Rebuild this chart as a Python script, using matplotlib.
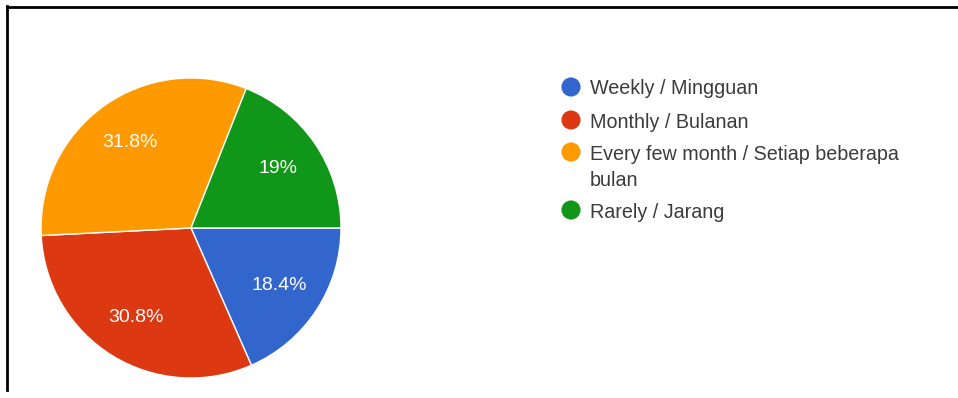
import matplotlib
matplotlib.use("Agg")
import numpy as np
import matplotlib.pyplot as plt
from matplotlib.lines import Line2D

# Survey answers: how often respondents do it
categories = ["Weekly / Mingguan", "Monthly / Bulanan",
              "Every few month / Setiap beberapa\nbulan", "Rarely / Jarang"]
percentages = [18.4, 30.8, 31.8, 19]
colors = ["#3366cc", "#dc3912", "#ff9900", "#109618"]

W, H = 958, 398
plt.rcParams["font.family"] = ["Liberation Sans", "DejaVu Sans"]
fig = plt.figure(figsize=(W / 100, H / 100), dpi=100)

# Pie: centre (191, 228) px, radius 150 px
cx, cy, r = 191, 228, 150
ax = fig.add_axes([(cx - r) / W, (H - cy - r) / H, 2 * r / W, 2 * r / H])
wedges, _ = ax.pie(percentages, colors=colors, startangle=0, counterclock=False,
                   wedgeprops=dict(edgecolor="white", linewidth=1.0))
for w, v in zip(wedges, percentages):
    theta = np.deg2rad((w.theta1 + w.theta2) / 2)
    ax.text(0.70 * np.cos(theta), 0.70 * np.sin(theta), f"{v:g}%",
            ha="center", va="center", color="white", fontsize=14)
ax.set_xlim(-1, 1)
ax.set_ylim(-1, 1)
ax.set_aspect("equal")
ax.axis("off")

# Overlay in pixel coordinates for the legend and the frame
ov = fig.add_axes([0, 0, 1, 1])
ov.set_xlim(0, W)
ov.set_ylim(H, 0)
ov.axis("off")

legend_y = [87, 120, 152, 210]
for lab, col, y in zip(categories, colors, legend_y):
    ov.scatter([571], [y], s=190, color=col, edgecolors="none")
    for i, line in enumerate(lab.split("\n")):
        ov.text(590, y + i * 26, line, ha="left", va="center_baseline",
                fontsize=14.2, color="#3c3c3c")

ov.add_line(Line2D([7, W], [7, 7], color="black", linewidth=2.0))
ov.add_line(Line2D([7, 7], [6, 390], color="black", linewidth=2.0))

fig.savefig("out.png", dpi=100, facecolor="white")
